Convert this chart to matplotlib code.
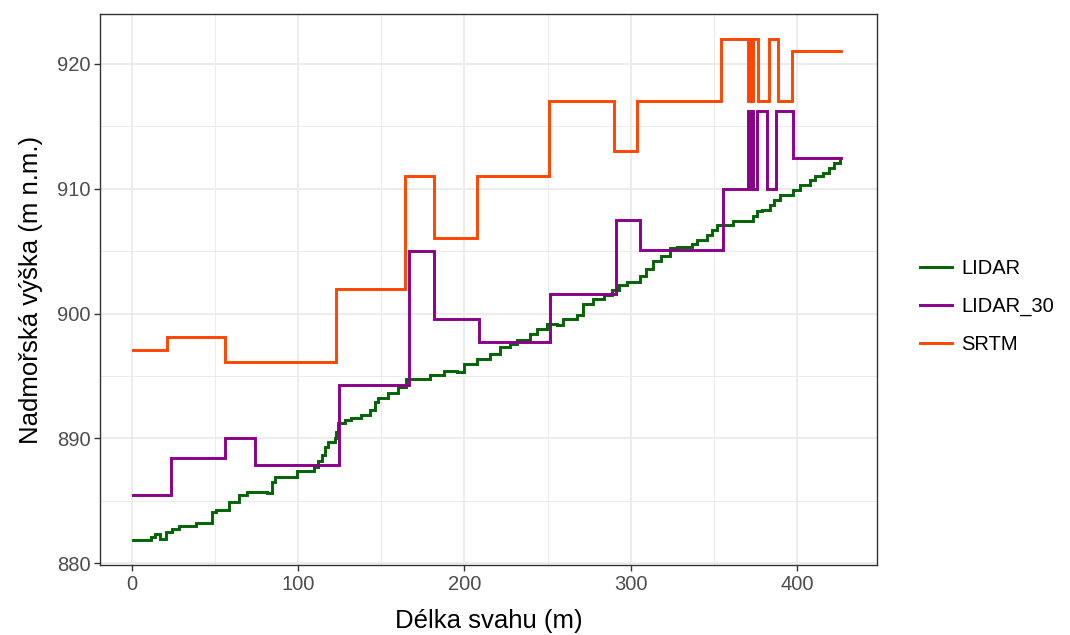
import matplotlib
matplotlib.use("Agg")
import matplotlib.pyplot as plt
from matplotlib.lines import Line2D
from matplotlib.ticker import MultipleLocator

plt.rcParams['font.family'] = ['Liberation Sans', 'DejaVu Sans']

# výškové profily svahu: vzdálenost (m) a nadmořská výška (m n.m.)
lidar_x = [0.8, 11.4, 14, 17, 20.4, 24, 28.4, 38.4, 48.4, 51, 58.4, 64.4, 69.4,
           81.4, 84.4, 86, 99.4, 109.4, 112, 114.7, 116, 118, 122, 123, 124,
           128, 132, 138, 143, 146, 148, 154, 160, 165, 179.6, 187.6, 195.6,
           199.6, 207.6, 215.6, 221.6, 227.6, 231.6, 239.6, 243.6, 249.6,
           255.6, 259.6, 267.6, 271.6, 277.6, 283.7, 288.7, 293, 297.7, 305.7,
           309, 313.7, 318, 323.7, 327.7, 336.7, 339.7, 345.7, 349, 351.7,
           361.7, 373.7, 376, 378.7, 383.7, 386, 389.7, 397.7, 402, 407.7, 411,
           415.7, 419, 422, 425.8]
lidar_y = [881.9, 882.1, 882.35, 881.95, 882.5, 882.75, 882.97, 883.24, 884.1,
           884.23, 884.9, 885.49, 885.7, 885.6, 886.5, 886.9, 887.37, 887.7,
           888.2, 888.65, 889.3, 889.7, 890.0, 890.5, 891.2, 891.46, 891.65,
           891.86, 892.26, 892.93, 893.2, 893.6, 894.1, 894.8, 895.08, 895.4,
           895.3, 896.0, 896.4, 896.8, 897.35, 897.6, 897.9, 898.4, 898.8,
           899.14, 899.05, 899.6, 899.9, 900.8, 901.2, 901.5, 901.9, 902.3,
           902.57, 903.0, 903.6, 904.2, 904.6, 905.25, 905.3, 905.6, 905.9,
           906.3, 906.7, 907.1, 907.45, 907.8, 908.2, 908.3, 908.7, 909.1,
           909.5, 909.9, 910.3, 910.7, 911.0, 911.3, 911.7, 912.1, 912.4]

lidar30_x = [0.8, 23.4, 56, 74, 124.5, 166.6, 181.6, 208.6, 251.7, 291.3, 305.6,
             355.7, 370.8, 371.6, 372.4, 373.6, 376.0, 382.2, 387.5, 397.8, 426.3]
lidar30_y = [885.5, 888.4, 890.0, 887.9, 894.3, 905.0, 899.6, 897.7, 901.6, 907.5,
             905.1, 910.0, 916.2, 910.0, 916.2, 910.0, 916.2, 910.0, 916.2, 912.5,
             912.5]

srtm_x = [0.8, 21.4, 56, 123.1, 164.4, 181.6, 207.6, 251, 290.1, 304.1, 354,
          370.8, 371.6, 372.4, 373.6, 376.4, 383.2, 388.4, 396.8, 426.3]
srtm_y = [897.1, 898.1, 896.1, 902.0, 911.0, 906.05, 911.0, 917.0, 913.0, 917.0,
          922.0, 917.0, 922.0, 917.0, 922.0, 917.0, 922.0, 917.0, 921.0, 921.0]

names = ['LIDAR', 'LIDAR_30', 'SRTM']
colors = ['#006400', '#8B008B', '#FF4500']

fig = plt.figure(figsize=(10.7, 6.35), dpi=100)
ax = fig.add_axes([0.0935, 0.110, 0.726, 0.868])

series = [(lidar_x, lidar_y), (lidar30_x, lidar30_y), (srtm_x, srtm_y)]
for (xs, ys), c in zip(series, colors):
    ax.plot(xs, ys, drawstyle='steps-post', color=c, lw=2.1,
            solid_joinstyle='miter')

ax.set_xlim(-19, 448)
ax.set_ylim(879.85, 924.0)

ax.xaxis.set_major_locator(MultipleLocator(100))
ax.xaxis.set_minor_locator(MultipleLocator(50))
ax.yaxis.set_major_locator(MultipleLocator(10))
ax.yaxis.set_minor_locator(MultipleLocator(5))
ax.grid(which='major', color='#EBEBEB', lw=1.3)
ax.grid(which='minor', color='#EBEBEB', lw=0.7)
ax.set_axisbelow(True)

for s in ax.spines.values():
    s.set_color('#333333')
    s.set_linewidth(1.0)

ax.tick_params(which='major', length=4, width=1.0, color='#333333',
               labelcolor='#4D4D4D', labelsize=14.5, pad=3)
ax.tick_params(which='minor', length=0)

ax.set_xlabel('Délka svahu (m)', fontsize=18.5, labelpad=11)
ax.set_ylabel('Nadmořská výška (m n.m.)', fontsize=18.5, labelpad=10)

handles = [Line2D([], [], color=c, lw=2.1) for c in colors]
fig.legend(handles, names, loc='center left', bbox_to_anchor=(0.860, 0.517),
           frameon=False, fontsize=14.5, handlelength=1.6, handletextpad=0.45,
           labelspacing=0.95, borderpad=0, borderaxespad=0)

fig.savefig('out.png', dpi=100)
